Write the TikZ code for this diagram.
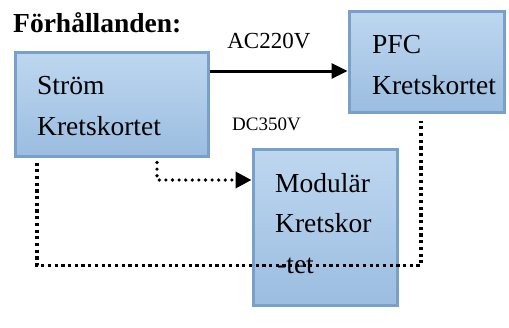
\documentclass[tikz,border=0pt]{standalone}
\usepackage{fontspec}
\setmainfont{Liberation Serif}
\usetikzlibrary{arrows.meta}

\definecolor{boardtop}{RGB}{190,215,240}
\definecolor{boardbot}{RGB}{155,189,224}
\definecolor{boardedge}{RGB}{120,160,200}

\begin{document}
\begin{tikzpicture}[x=1pt, y=-1pt,
  board/.style={draw=boardedge, line width=3pt, top color=boardtop,
                bottom color=boardbot, inner sep=0pt},
  title/.style={font=\fontsize{27.5}{33}\selectfont\bfseries, anchor=base west, inner sep=0pt},
  item/.style={font=\fontsize{27.5}{33}\selectfont, anchor=base west, inner sep=0pt},
  volt/.style={font=\fontsize{19}{23}\selectfont, anchor=base west, inner sep=0pt},
  feed/.style={-{Triangle[length=16pt,width=15pt]}, line width=3pt, draw=black},
  sig/.style={-{Triangle[length=16pt,width=16pt]}, line width=3.6pt, draw=black,
              line cap=round, dash pattern=on 0pt off 6.6pt},
  loop/.style={line width=3.6pt, draw=black, line cap=butt,
               dash pattern=on 3.2pt off 3.5pt},
]
\useasboundingbox (0,0) rectangle (509,327);

% ============ heading ============
\node[title] (head) at (13,32.5) {Förhållanden:};

% ============ boards ============
\node[board, minimum width=193pt, minimum height=104pt] (strom) at (111.5,104) {};
\node[item] at (37,94) {Ström};
\node[item] at (37,135) {Kretskortet};

\node[board, minimum width=155pt, minimum height=101pt] (pfc) at (426.5,61.5) {};
\node[item] at (372,53) {PFC};
\node[item] at (372,94) {Kretskortet};

\node[board, minimum width=144pt, minimum height=156pt] (mod) at (325,227) {};
\node[item] at (275,192) {Modulär};
\node[item] at (275,232) {Kretskor};
\node[item] at (277,273) {-tet};

% ============ AC feed: strom -> pfc ============
\path ([yshift=33pt]strom.east) coordinate (acout);
\draw[feed] (acout) -- (acout -| pfc.west)
  node[font=\fontsize{23}{27}\selectfont, inner sep=0pt, pos=0.43, above=21pt] {AC220V};

% ============ DC feed: strom -> mod ============
\node[volt] (dc) at (232,130) {DC350V};
\draw[sig] ([xshift=45.5pt,yshift=-5pt]strom.south) |- ([yshift=47pt]mod.west);

% ============ return loop: strom ... pfc ============
\draw[loop] ([xshift=-74.5pt,yshift=-5pt]strom.south) -- ++(0,103)
  -| ([xshift=-5.5pt,yshift=-7pt]pfc.south);

\end{tikzpicture}
\end{document}
